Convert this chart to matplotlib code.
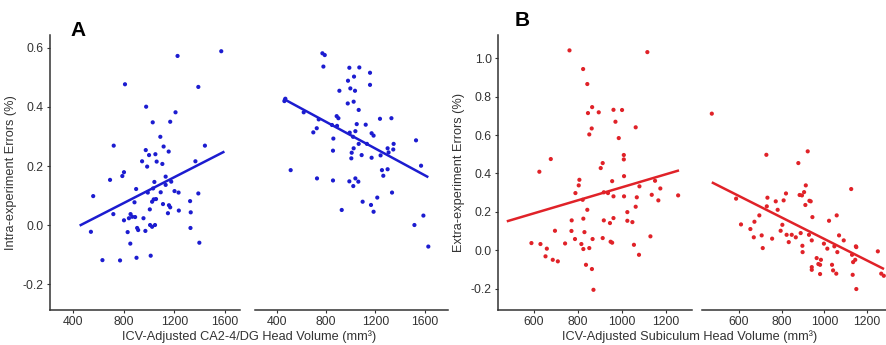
import matplotlib
matplotlib.use("Agg")
import matplotlib.pyplot as plt
import numpy as np

plt.rcParams['font.family'] = ['Liberation Sans', 'DejaVu Sans']

# ---------------- Data ----------------
# Panel A, left
a1_x = [541, 559, 632, 721, 692, 718, 771, 789, 802, 810, 802, 831, 841, 854, 852, 867, 885,
        898, 890, 906, 914, 901, 956, 971, 945, 974, 985, 977, 990, 1000, 1006, 1008, 1013,
        1024, 1029, 1024, 1032, 1037, 1042, 1050, 1055, 1060, 1047, 1089, 1092, 1105, 1110,
        1115, 1131, 1131, 1155, 1149, 1157, 1167, 1175, 1167, 1201, 1209, 1225, 1233, 1235,
        1324, 1329, 1327, 1366, 1389, 1389, 1397, 1441, 1570]
a1_y = [-0.023, 0.098, -0.119, 0.269, 0.153, 0.037, -0.120, 0.166, 0.179, 0.477, 0.016, -0.024,
        0.023, 0.037, -0.063, 0.028, 0.077, 0.122, 0.027, -0.010, -0.017, -0.111, 0.023, -0.020,
        0.216, 0.254, 0.198, 0.401, 0.110, 0.237, 0.053, 0.000, -0.104, -0.006, 0.348, 0.079,
        0.124, 0.087, 0.146, 0.240, 0.088, 0.215, 0.000, 0.299, 0.111, 0.207, 0.071, 0.266,
        0.136, 0.164, 0.249, 0.040, 0.067, 0.350, 0.147, 0.060, 0.115, 0.382, 0.573, 0.110,
        0.049, 0.081, 0.043, -0.010, 0.216, 0.468, 0.107, -0.060, 0.269, 0.589]
a1_fit_x = [452, 1595]
a1_fit_y = [-0.002, 0.249]

# Panel A, right
a2_x = [460, 468, 511, 617, 695, 723, 739, 725, 769, 788, 777, 847, 858, 855, 855, 885, 899,
        888, 907, 926, 975, 977, 988, 988, 991, 996, 1004, 1007, 1018, 1023, 1026, 1020, 1034,
        1037, 1037, 1048, 1023, 1064, 1061, 1069, 1064, 1088, 1096, 1121, 1131, 1156, 1156,
        1164, 1169, 1169, 1185, 1185, 1215, 1237, 1242, 1253, 1264, 1299, 1299, 1307, 1330,
        1335, 1345, 1348, 1530, 1517, 1571, 1590, 1630]
a2_y = [0.420, 0.428, 0.186, 0.382, 0.314, 0.328, 0.358, 0.158, 0.582, 0.576, 0.537, 0.339,
        0.293, 0.252, 0.151, 0.369, 0.362, 0.336, 0.455, 0.051, 0.412, 0.489, 0.533, 0.148,
        0.313, 0.463, 0.226, 0.245, 0.299, 0.418, 0.503, 0.132, 0.455, 0.318, 0.158, 0.342,
        0.260, 0.390, 0.147, 0.534, 0.275, 0.237, 0.079, 0.340, 0.275, 0.516, 0.475, 0.068,
        0.311, 0.228, 0.303, 0.045, 0.093, 0.360, 0.236, 0.186, 0.167, 0.189, 0.260, 0.246,
        0.362, 0.110, 0.256, 0.275, 0.287, 0.000, 0.201, 0.032, -0.073]
a2_fit_x = [451, 1630]
a2_fit_y = [0.428, 0.162]

# Panel B, left
b1_x = [588, 624, 629, 652, 658, 676, 685, 695, 708, 741, 761, 770, 771, 786, 788, 803, 806,
        815, 821, 823, 824, 824, 829, 836, 842, 842, 845, 851, 851, 862, 863, 864, 866, 870,
        894, 903, 912, 912, 917, 917, 936, 945, 948, 955, 955, 961, 961, 961, 970, 985, 1000,
        1008, 1008, 1009, 1009, 1024, 1024, 1047, 1054, 1062, 1062, 1067, 1077, 1079, 1115,
        1129, 1135, 1150, 1165, 1174, 1255]
b1_y = [0.038, 0.409, 0.033, -0.031, 0.009, 0.475, -0.049, 0.102, -0.057, 0.036, 1.040, 0.101,
        0.156, 0.059, 0.298, 0.338, 0.367, 0.033, 0.263, 0.943, 0.007, 0.165, 0.095, -0.075,
        0.211, 0.865, 0.714, 0.012, 0.603, 0.634, -0.097, 0.745, 0.059, -0.205, 0.718, 0.428,
        0.454, 0.064, 0.156, 0.302, 0.298, 0.142, 0.045, 0.040, 0.360, 0.731, 0.281, 0.168,
        0.669, 0.584, 0.730, 0.496, 0.473, 0.386, 0.281, 0.199, 0.154, 0.147, 0.029, 0.640,
        0.227, 0.276, -0.023, 0.333, 1.031, 0.073, 0.289, 0.362, 0.260, 0.322, 0.286]
b1_fit_x = [476, 1259]
b1_fit_y = [0.151, 0.416]

# Panel B, right
b2_x = [472, 586, 609, 653, 669, 672, 695, 706, 711, 728, 730, 733, 755, 772, 781, 795, 803,
        809, 820, 823, 833, 847, 866, 878, 884, 889, 895, 897, 898, 905, 911, 913, 922, 928,
        930, 936, 941, 941, 941, 944, 964, 972, 980, 984, 980, 998, 1014, 1022, 1036, 1041,
        1047, 1056, 1058, 1061, 1069, 1091, 1126, 1130, 1135, 1148, 1150, 1145, 1133, 1150,
        1251, 1267, 1279]
b2_y = [0.711, 0.269, 0.135, 0.111, 0.068, 0.149, 0.182, 0.078, 0.012, 0.497, 0.229, 0.274,
        0.061, 0.255, 0.211, 0.102, 0.133, 0.260, 0.296, 0.081, 0.043, 0.081, 0.068, 0.454,
        0.288, 0.090, 0.286, 0.024, -0.009, 0.303, 0.236, 0.338, 0.515, 0.081, 0.258, 0.255,
        0.052, -0.087, -0.101, 0.173, -0.040, -0.071, -0.075, -0.049, -0.123, 0.035, 0.009,
        0.154, -0.075, -0.104, 0.021, -0.121, 0.182, -0.009, 0.078, 0.052, 0.319, -0.023,
        -0.061, 0.021, 0.017, -0.049, -0.127, -0.201, -0.005, -0.121, -0.132]
b2_fit_x = [472, 1280]
b2_fit_y = [0.354, -0.097]

a_xticks = [400, 800, 1200, 1600]
a_yticks = [-0.2, 0.0, 0.2, 0.4, 0.6]
b_xticks = [600, 800, 1000, 1200]
b_yticks = [-0.2, 0.0, 0.2, 0.4, 0.6, 0.8, 1.0]

a_ylabel = "Intra-experiment Errors (%)"
b_ylabel = "Extra-experiment Errors (%)"
a_xlabel = "ICV-Adjusted CA2-4/DG Head Volume (mm³)"
b_xlabel = "ICV-Adjusted Subiculum Head Volume (mm³)"

BLUE = "#1c1cd0"
RED = "#e02228"
TEXT = "#333333"
SPINE = "#333333"

W, H = 887, 345
fig = plt.figure(figsize=(W / 100, H / 100), dpi=100)


def ax_at(x0, x1, y0=35, y1=310):
    return fig.add_axes([x0 / W, 1 - y1 / H, (x1 - x0) / W, (y1 - y0) / H])


def style(ax, xticks, yticks, show_y, xlim, ylim):
    ax.set_xlim(*xlim)
    ax.set_ylim(*ylim)
    ax.set_xticks(xticks)
    ax.set_xticklabels([str(t) for t in xticks])
    for s in ["top", "right"]:
        ax.spines[s].set_visible(False)
    ax.spines["bottom"].set_color(SPINE)
    ax.spines["bottom"].set_linewidth(1.1)
    if show_y:
        ax.set_yticks(yticks)
        ax.set_yticklabels([f"{t:.1f}" for t in yticks])
        ax.spines["left"].set_color(SPINE)
        ax.spines["left"].set_linewidth(1.1)
    else:
        ax.spines["left"].set_visible(False)
        ax.set_yticks([])
    ax.tick_params(axis="both", length=2.5, width=0.8, color=SPINE,
                   labelsize=8.8, labelcolor=TEXT, pad=2)
    ax.set_facecolor("white")


def draw(ax, x, y, fx, fy, color):
    ax.scatter(x, y, s=9, color=color, edgecolors="none", zorder=3)
    ax.plot(fx, fy, color=color, lw=1.8, zorder=4, solid_capstyle="butt")


a_ylim = (-0.288, 0.644)
b_ylim = (-0.31, 1.12)

ax1 = ax_at(50, 240)
draw(ax1, a1_x, a1_y, a1_fit_x, a1_fit_y, BLUE)
style(ax1, a_xticks, a_yticks, True, (218, 1718), a_ylim)
ax1.set_ylabel(a_ylabel, fontsize=9.2, color=TEXT, labelpad=4)

ax2 = ax_at(255, 448)
draw(ax2, a2_x, a2_y, a2_fit_x, a2_fit_y, BLUE)
style(ax2, a_xticks, a_yticks, False, (221, 1790), a_ylim)

ax3 = ax_at(498, 692)
draw(ax3, b1_x, b1_y, b1_fit_x, b1_fit_y, RED)
style(ax3, b_xticks, b_yticks, True, (436, 1318), b_ylim)
ax3.set_ylabel(b_ylabel, fontsize=9.2, color=TEXT, labelpad=4)

ax4 = ax_at(702, 887)
draw(ax4, b2_x, b2_y, b2_fit_x, b2_fit_y, RED)
style(ax4, b_xticks, b_yticks, False, (426, 1294), b_ylim)

fig.text(249 / W, 1 - 337 / H, a_xlabel, ha="center", va="center", fontsize=9.2, color=TEXT)
fig.text(690 / W, 1 - 337 / H, b_xlabel, ha="center", va="center", fontsize=9.2, color=TEXT)

fig.text(70 / W, 1 - 31 / H, "A", ha="left", va="center", fontsize=15, fontweight="bold", color="black")
fig.text(515 / W, 1 - 20 / H, "B", ha="left", va="center", fontsize=15, fontweight="bold", color="black")

fig.savefig("out.png", dpi=100, facecolor="white")
